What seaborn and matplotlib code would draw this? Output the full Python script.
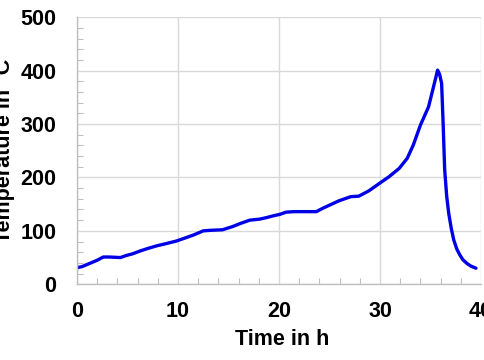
import matplotlib
matplotlib.use("Agg")
import matplotlib.pyplot as plt
from matplotlib.ticker import MultipleLocator
import seaborn as sns
import pandas as pd

time_h = [0.0, 0.5, 1.0, 1.5, 2.0, 2.6, 3.2, 4.3, 4.9, 5.5, 6.2, 7.0, 7.9, 8.8, 9.85,
          10.6, 11.5, 12.5, 13.2, 14.4, 15.4, 16.2, 17.1, 18.1, 18.8, 19.4, 20.1, 20.7,
          21.5, 22.3, 23.0, 23.7, 24.3, 25.1, 25.9, 26.5, 27.1, 27.9, 28.9, 29.8, 30.9,
          31.9, 32.7, 33.3, 34.0, 34.8, 35.3, 35.7, 35.9, 36.1, 36.25, 36.4, 36.6, 36.8,
          37.05, 37.3, 37.6, 37.9, 38.2, 38.6, 39.0, 39.5]
temp_c = [31, 33, 37, 41, 45, 51, 51, 50, 54, 57, 62, 67, 72, 76, 81,
          86, 92, 100, 101, 102, 108, 114, 120, 122, 125, 128, 131, 135,
          136, 136, 136, 136, 142, 149, 156, 160, 164, 165, 175, 187, 201.5,
          217, 236, 261, 298, 332, 370, 401, 393, 376, 300, 215, 165, 133,
          105, 83, 66, 55, 46, 39, 34, 30]

df = pd.DataFrame({"Time in h": time_h, "Temperature in °C": temp_c})

sns.set_theme(style="white")
plt.rcParams["font.family"] = ["Liberation Sans", "DejaVu Sans"]
plt.rcParams["font.weight"] = "bold"

fig = plt.figure(figsize=(4.85, 3.6), dpi=100)
ax = fig.add_axes([0.1588, 0.2104, 0.8330, 0.7417])

sns.lineplot(data=df, x="Time in h", y="Temperature in °C", ax=ax,
             color="#0000e6", linewidth=2.4, sort=False)

ax.set_xlim(0, 40)
ax.set_ylim(0, 500)
ax.xaxis.set_major_locator(MultipleLocator(10))
ax.xaxis.set_minor_locator(MultipleLocator(2))
ax.yaxis.set_major_locator(MultipleLocator(100))
ax.yaxis.set_minor_locator(MultipleLocator(20))
ax.grid(True, which="major", color="#d9d9d9", linewidth=1.0)
ax.set_axisbelow(True)

for s in ["top", "right"]:
    ax.spines[s].set_visible(False)
for s in ["left", "bottom"]:
    ax.spines[s].set_color("#bfbfbf")
    ax.spines[s].set_linewidth(1.0)

ax.tick_params(axis="both", which="major", length=0, labelsize=15.5,
               colors="black")
ax.tick_params(axis="x", which="major", pad=12)
ax.tick_params(axis="y", which="major", pad=15)
ax.tick_params(axis="both", which="minor", direction="in", length=4,
               color="#bfbfbf", width=0.8)
ax.tick_params(axis="x", which="minor", bottom=True)
ax.tick_params(axis="y", which="minor", left=True)
for lbl in ax.get_xticklabels() + ax.get_yticklabels():
    lbl.set_fontweight("bold")

ax.set_xlabel("Time in h", fontsize=15.5, fontweight="bold", color="black")
ax.set_ylabel("Temperature in °C", fontsize=15.5, fontweight="bold", color="black")
ax.xaxis.set_label_coords(0.509, -0.168)
ax.yaxis.set_label_coords(-0.153, 0.5)

fig.savefig("out.png", dpi=100)
